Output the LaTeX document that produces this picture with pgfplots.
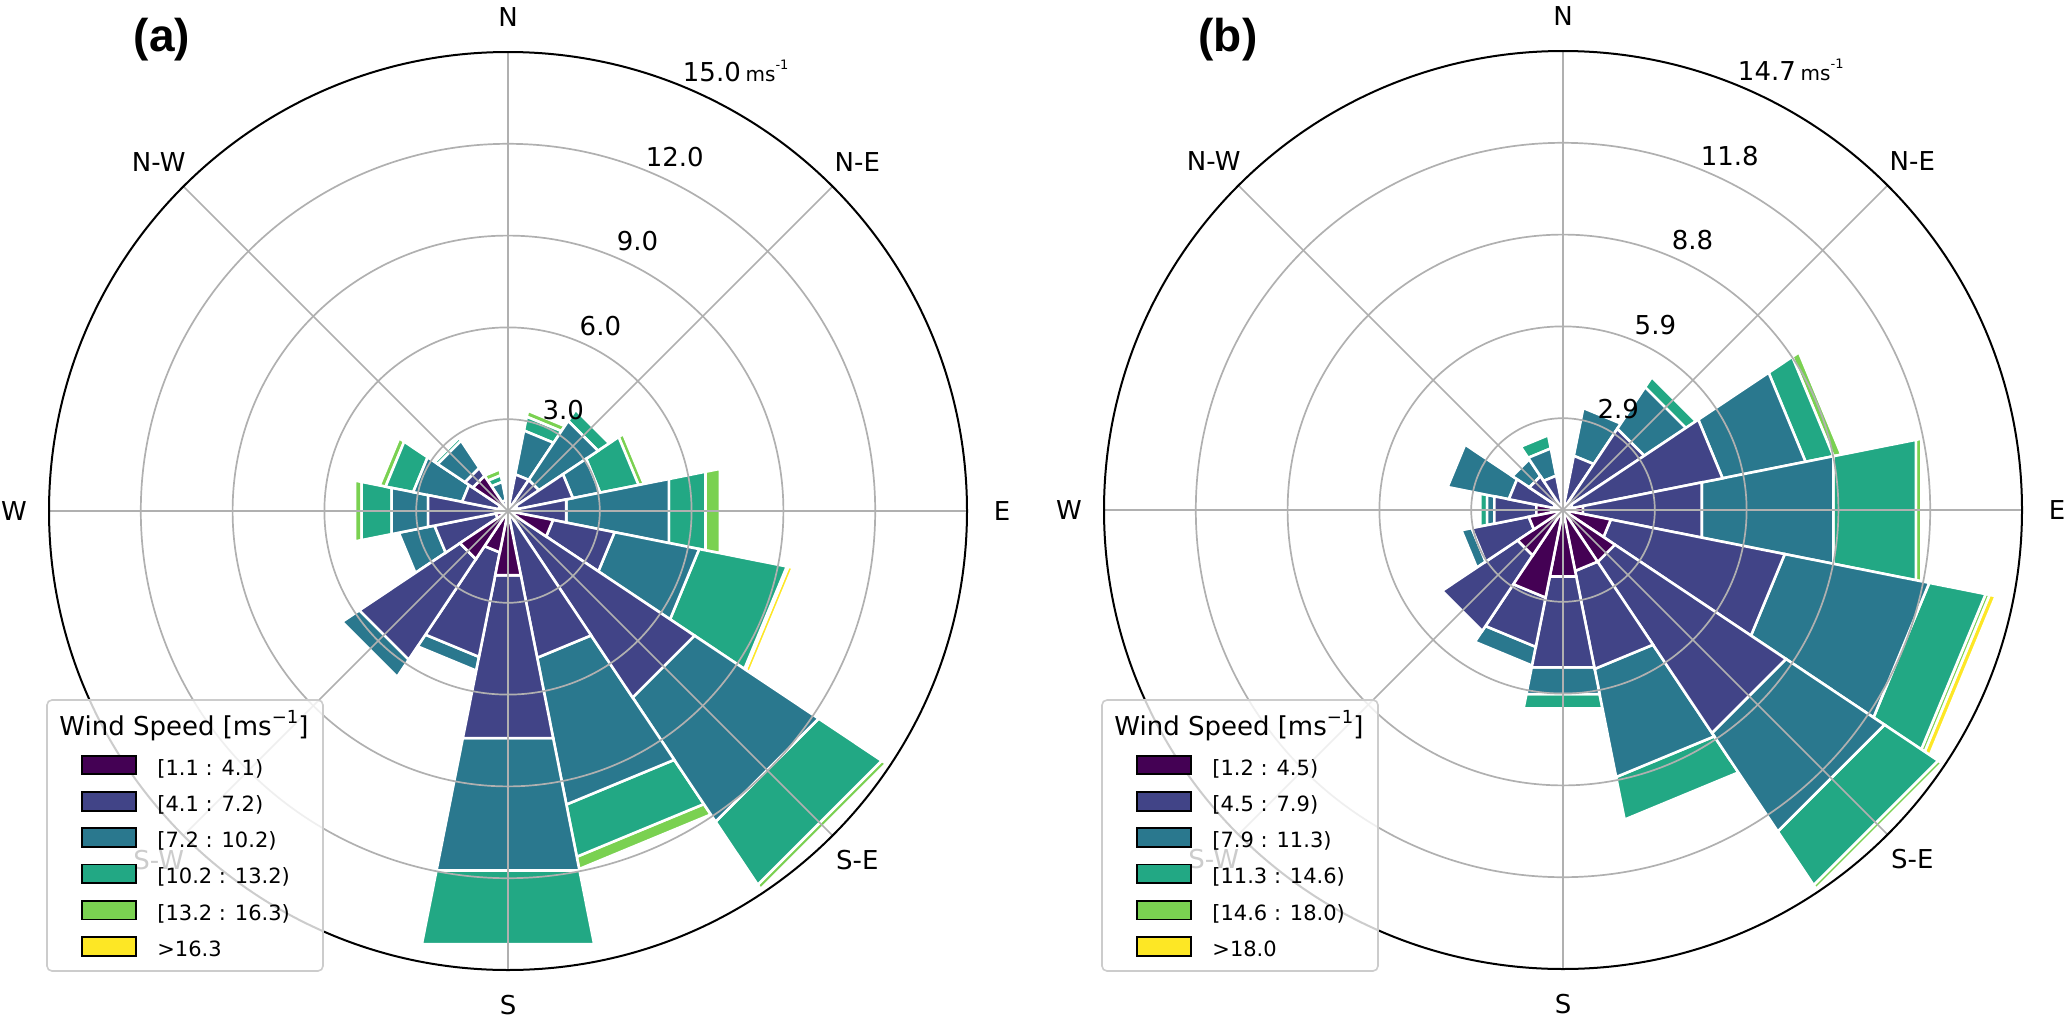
\documentclass[border=0pt]{standalone}
\usepackage{fontspec}
\setmainfont{DejaVu Sans}
\newfontfamily\arialfont{Liberation Sans}
\usepackage{pgfplots}
\pgfplotsset{compat=1.18}
\usepackage{pgfplotstable}

\definecolor{bin1}{HTML}{440154}
\definecolor{bin2}{HTML}{414487}
\definecolor{bin3}{HTML}{2A788E}
\definecolor{bin4}{HTML}{22A884}
\definecolor{bin5}{HTML}{7AD151}
\definecolor{bin6}{HTML}{FDE725}
\definecolor{gridc}{HTML}{B0B0B0}
\definecolor{legborder}{HTML}{CCCCCC}

% per-direction height of each speed bin (m/s scale of the radial axis)
\pgfplotstableread{
dir   b1   b2   b3   b4   b5   b6
0     0    0    0    0    0    0
22.5  0.10 1.12 1.46 0.46 0.20 0
45    0.20 1.02 2.32 0.44 0    0
67.5  0.31 1.85 0.91 1.28 0.18 0
90    0.31 1.63 3.42 1.22 0.48 0
112.5 1.50 2.05 2.82 2.92 0.05 0.15
135   0.36 6.97 4.88 2.48 0.17 0
157.5 0.20 4.69 4.89 1.74 0.41 0
180   2.14 5.43 4.41 2.45 0    0
202.5 1.38 3.48 0.46 0    0    0
225   1.89 3.95 0.68 0    0    0
247.5 0.41 2.04 1.19 0    0    0
270   0.31 2.35 1.22 1.00 0.22 0
292.5 0.31 1.22 1.63 0.92 0.20 0
315   1.38 0.31 1.07 0.12 0    0
337.5 0.10 0.26 0.61 0.22 0.20 0
}\roseA

\pgfplotstableread{
dir   b1   b2   b3   b4   b5   b6
0     0    0    0    0    0    0
22.5  0.20 1.57 1.56 0    0    0
45    0.20 2.93 1.60 0.39 0    0
67.5  0.31 4.90 2.71 0.91 0.26 0
90    0.65 3.88 4.30 2.69 0.18 0
112.5 1.56 5.68 4.72 1.84 0.13 0.20
135   2.00 6.59 3.79 2.07 0.14 0
157.5 1.99 3.20 3.53 1.39 0    0
180   2.17 2.97 0.87 0.47 0    0
202.5 2.86 1.61 0.61 0    0    0
225   1.75 2.91 0    0    0    0
247.5 1.12 1.86 0.34 0    0    0
270   0.87 1.37 0.24 0.22 0    0
292.5 0.31 1.46 2.00 0    0    0
315   0.20 1.10 0.65 0    0    0
337.5 0.10 1.02 0.89 0.43 0    0
}\roseB

\pgfplotsset{rosebar/.style={draw=white, line width=1.3pt, line join=miter}}

\newcommand\addcum[3]{% #1 row, #2 column, #3 table
  \pgfplotstablegetelem{#1}{#2}\of#3%
  \pgfmathsetmacro\wrLo{\wrLo+\pgfplotsretval}%
}

\newcommand\drawrose[1]{%
  \pgfplotsforeachungrouped \wrN in {0,...,95}{%
    \pgfmathtruncatemacro\wrK{6-int(\wrN/16)}%
    \pgfmathtruncatemacro\wrI{mod(\wrN,16)}%
    \pgfplotstablegetelem{\wrI}{dir}\of#1%
    \pgfmathsetmacro\wrTh{90-\pgfplotsretval}%
    \def\wrLo{0}%
    \ifnum\wrK>1 \addcum{\wrI}{b1}{#1}\fi
    \ifnum\wrK>2 \addcum{\wrI}{b2}{#1}\fi
    \ifnum\wrK>3 \addcum{\wrI}{b3}{#1}\fi
    \ifnum\wrK>4 \addcum{\wrI}{b4}{#1}\fi
    \ifnum\wrK>5 \addcum{\wrI}{b5}{#1}\fi
    \edef\wrCol{b\wrK}%
    \pgfplotstablegetelem{\wrI}{\wrCol}\of#1%
    \let\wrH\pgfplotsretval
    \pgfmathsetmacro\wrHi{\wrLo+\wrH}%
    \pgfmathtruncatemacro\wrShow{\wrH>0.001}%
    \ifnum\wrShow=1
      \pgfmathsetmacro\wrTa{\wrTh-11.25}%
      \pgfmathsetmacro\wrTb{\wrTh+11.25}%
      \pgfmathsetmacro\wrXa{\wrLo*cos(\wrTa)}\pgfmathsetmacro\wrYa{\wrLo*sin(\wrTa)}%
      \pgfmathsetmacro\wrXb{\wrHi*cos(\wrTa)}\pgfmathsetmacro\wrYb{\wrHi*sin(\wrTa)}%
      \pgfmathsetmacro\wrXc{\wrHi*cos(\wrTb)}\pgfmathsetmacro\wrYc{\wrHi*sin(\wrTb)}%
      \pgfmathsetmacro\wrXd{\wrLo*cos(\wrTb)}\pgfmathsetmacro\wrYd{\wrLo*sin(\wrTb)}%
      \edef\wrDo{\noexpand\addplot[rosebar, fill=bin\wrK] coordinates {(\wrXa,\wrYa) (\wrXb,\wrYb) (\wrXc,\wrYc) (\wrXd,\wrYd)} -- cycle;}%
      \wrDo
    \fi
  }%
}

\newcommand\roseframe[2]{%
  \foreach \r in {91.8,183.6,275.4,367.2}{\draw[gridc, line width=0.85pt] (#1,#2) circle[radius=\r];}
  \foreach \a in {0,45,...,315}{\draw[gridc, line width=0.85pt] (#1,#2) -- ++(\a:459);}
  \draw[black, line width=1pt] (#1,#2) circle[radius=459];
}

\newcommand\dirlabels[2]{%
  \begin{scope}[every node/.style={inner sep=0pt, font=\fontsize{13}{15}\selectfont}]
  \node at (#1,#2-494) {N};
  \node at (#1+349.3,#2-349.3) {N-E};
  \node at (#1+494,#2) {E};
  \node at (#1+349.3,#2+349.3) {S-E};
  \node at (#1,#2+494) {S};
  \node at (#1-349.3,#2+349.3) {S-W};
  \node at (#1-494,#2) {W};
  \node at (#1-349.3,#2-349.3) {N-W};
  \end{scope}
}

\newcommand\radlabels[7]{% cx cy l1..l5
  \begin{scope}[every node/.style={inner sep=0pt, font=\fontsize{13}{15}\selectfont}]
  \node at (#1+55.2,#2-101.0) {#3};
  \node at (#1+92.4,#2-185.4) {#4};
  \node at (#1+129.5,#2-269.9) {#5};
  \node at (#1+166.7,#2-354.3) {#6};
  \node (top#1) at (#1+203.9,#2-438.8) {#7};
  \node[anchor=base west] at ([xshift=2pt]top#1.base east) {\fontsize{10}{12}\selectfont ms\raisebox{0.6em}{\fontsize{6.5}{7}\selectfont -1}};
  \end{scope}
}

\newcommand\roselegend[7]{% x offset, six labels
  \draw[legborder, line width=0.8pt, fill=white, fill opacity=0.8, rounded corners=2.5pt] (47+#1,700) rectangle (323+#1,971);
  \node[anchor=base west, inner sep=0pt, font=\fontsize{13}{15}\selectfont] at (59+#1,735) {Wind Speed [ms\raisebox{0.45em}{\fontsize{9}{10}\selectfont −1}]};
  \foreach \k/\lab [count=\c from 0] in {1/{#2},2/{#3},3/{#4},4/{#5},5/{#6},6/{#7}}{
    \pgfmathsetmacro\yy{765+36.3*\c}
    \draw[fill=bin\k, draw=black, line width=0.9pt] (82+#1,\yy-9.35) rectangle (136+#1,\yy+9.35);
    \node[anchor=base west, inner sep=0pt, font=\fontsize{10.5}{12}\selectfont] at (157+#1,\yy+10) {\lab};
  }
}

\begin{document}
\begin{tikzpicture}
\useasboundingbox (0,0) rectangle (1033.5pt,-508.5pt);

\begin{axis}[at={(254pt,-255.5pt)}, anchor=center, hide axis, clip=false,
  x=15.3pt, y=15.3pt, xmin=-15, xmax=15, ymin=-15, ymax=15]
\drawrose{\roseA}
\end{axis}

\begin{axis}[at={(781.5pt,-255pt)}, anchor=center, hide axis, clip=false,
  x=15.6122pt, y=15.6122pt, xmin=-14.7, xmax=14.7, ymin=-14.7, ymax=14.7]
\drawrose{\roseB}
\end{axis}

\begin{scope}[x=0.5pt, y=-0.5pt]
  \roseframe{508}{511}
  \roseframe{1563}{510}
  \dirlabels{508}{511}
  \dirlabels{1563}{510}
  \radlabels{508}{511}{3.0}{6.0}{9.0}{12.0}{15.0}
  \radlabels{1563}{510}{2.9}{5.9}{8.8}{11.8}{14.7}
  \roselegend{0}{[1.1 : 4.1)}{[4.1 : 7.2)}{[7.2 : 10.2)}{[10.2 : 13.2)}{[13.2 : 16.3)}{>16.3}
  \roselegend{1055}{[1.2 : 4.5)}{[4.5 : 7.9)}{[7.9 : 11.3)}{[11.3 : 14.6)}{[14.6 : 18.0)}{>18.0}
  \node[inner sep=0pt, font=\fontsize{23}{27}\selectfont\arialfont\bfseries] at (162,40) {(a)};
  \node[inner sep=0pt, font=\fontsize{23}{27}\selectfont\arialfont\bfseries] at (1228,40) {(b)};
\end{scope}
\end{tikzpicture}
\end{document}
